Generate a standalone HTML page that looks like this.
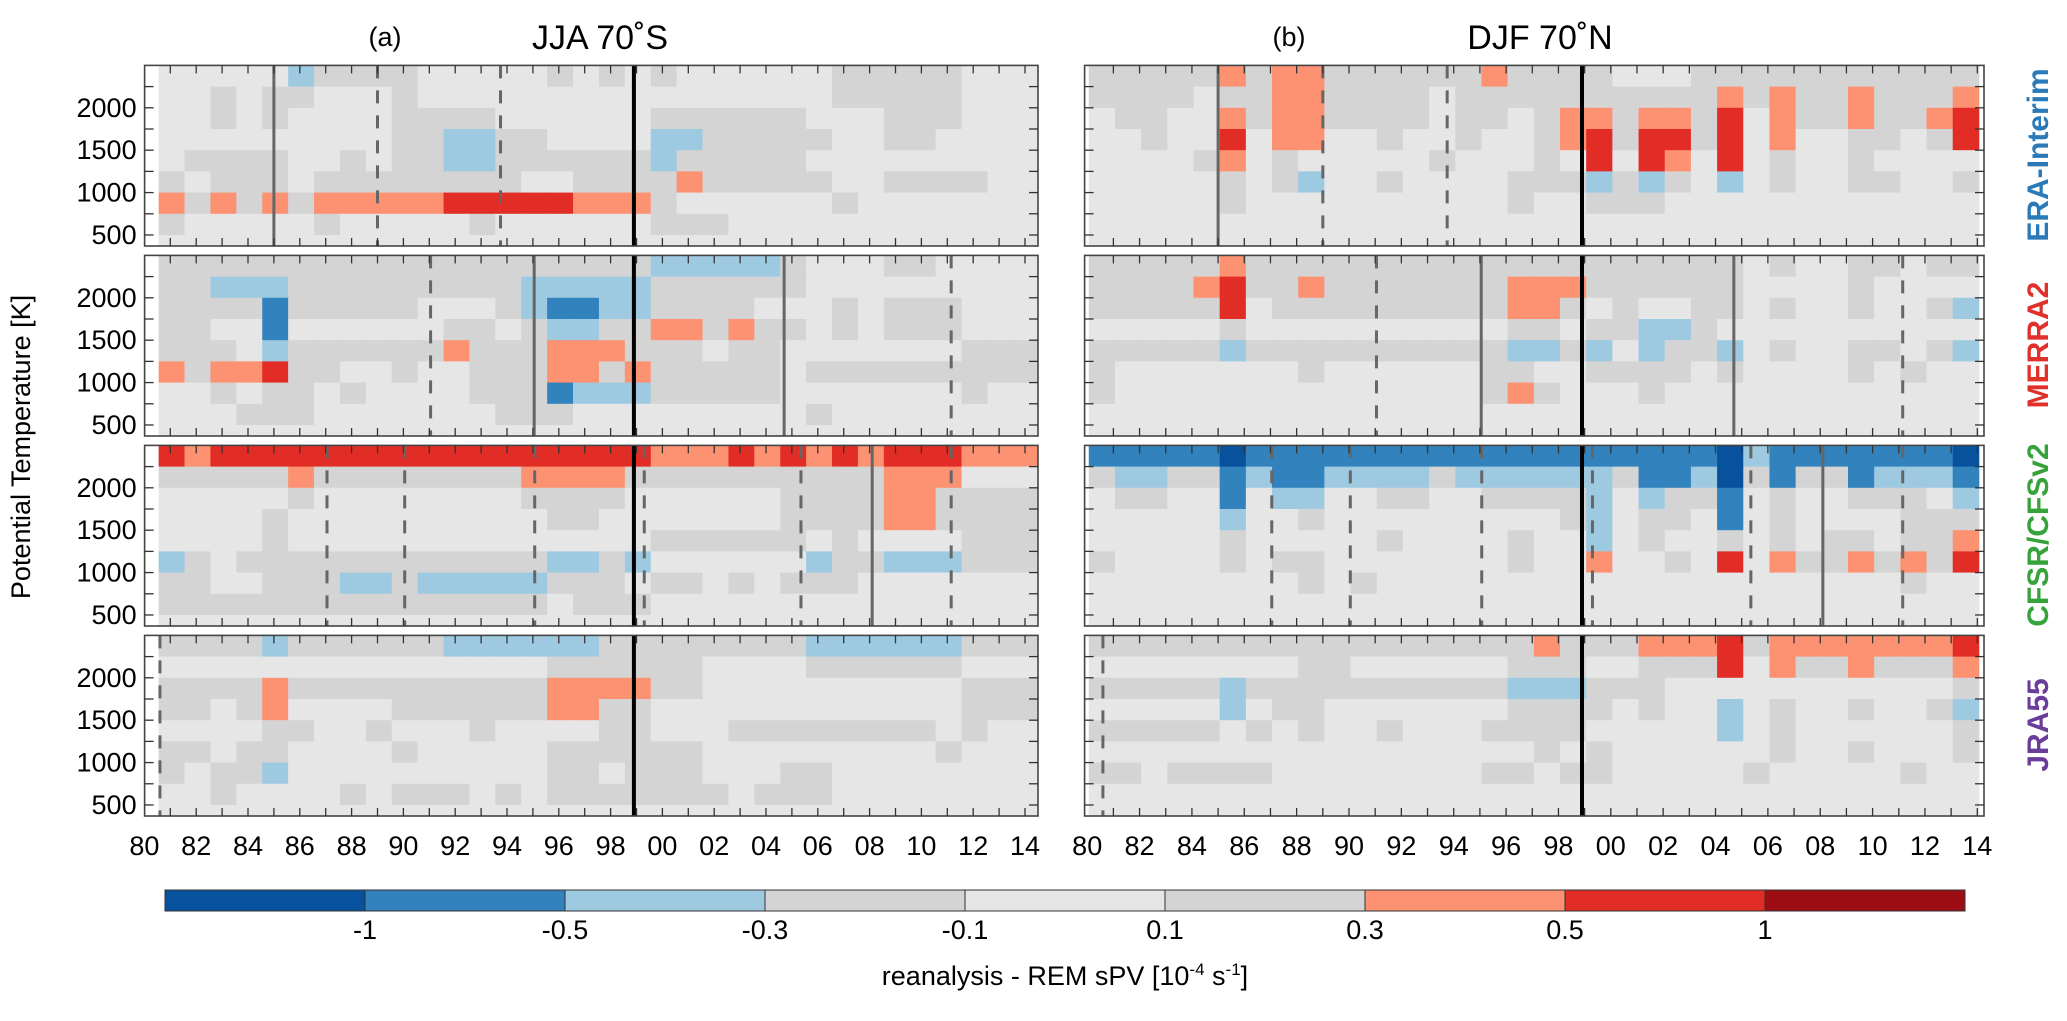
<!DOCTYPE html>
<html><head><meta charset="utf-8">
<style>
html,body{margin:0;padding:0;background:#fff;}
body{width:2067px;height:1016px;overflow:hidden;font-family:"Liberation Sans",sans-serif;}
svg text{font-family:"Liberation Sans",sans-serif;}
</style></head>
<body>
<svg id="chart" width="2067" height="1016" viewBox="0 0 2067 1016" xmlns="http://www.w3.org/2000/svg">
  <g id="cells"></g>
  <g id="lines"></g>
  <g id="frames"></g>
  <g id="labels"></g>
  <text x="385" y="46" font-size="27" text-anchor="middle">(a)</text>
  <text x="600" y="49" font-size="34" text-anchor="middle">JJA 70˚S</text>
  <text x="1289" y="46" font-size="27" text-anchor="middle">(b)</text>
  <text x="1540" y="49" font-size="34" text-anchor="middle">DJF 70˚N</text>
  <text transform="translate(30,447) rotate(-90)" font-size="27" text-anchor="middle">Potential Temperature [K]</text>
  <text transform="translate(2048,155) rotate(-90)" font-size="30" font-weight="bold" fill="#2a7ab9" text-anchor="middle">ERA-Interim</text>
  <text transform="translate(2048,345) rotate(-90)" font-size="30" font-weight="bold" fill="#e0302a" text-anchor="middle">MERRA2</text>
  <text transform="translate(2048,535) rotate(-90)" font-size="30" font-weight="bold" fill="#36a33a" text-anchor="middle">CFSR/CFSv2</text>
  <text transform="translate(2048,725) rotate(-90)" font-size="30" font-weight="bold" fill="#6a3d9a" text-anchor="middle">JRA55</text>
  <g id="cbar"></g>
  <text x="1065" y="985" font-size="27" text-anchor="middle">reanalysis - REM sPV [10<tspan dy="-10" font-size="17">-4</tspan><tspan dy="10"> s</tspan><tspan dy="-10" font-size="17">-1</tspan><tspan dy="10">]</tspan></text>
</svg>
<script>
// ---- data: run-length coded category rows (top row = 2250-2500 K) ----
var eraJJA = ["L5 b1 g4 L5 g1 L1 g1 L1 g1 L6 g5 L3","L2 g1 L1 g2 L3 g1 L16 g5 L3","L2 g1 L1 g1 L4 g4 L6 g6 L3 g3 L3","L9 g2 b2 g2 L4 b2 g5 L2 g2 L4","L1 g4 L2 g1 L1 g2 b2 g6 b1 g5 L9","g1 L1 g3 L1 g8 L2 g4 o1 g5 L2 g4 L2","o1 g1 o1 g1 o1 g1 o5 r5 o3 g1 L6 g1 L7","g1 L5 g1 L5 g1 L6 g3 L12","L34"];
var eraDJF = ["g5 o1 g1 o2 g6 o1 g4 L3 g11","g4 L1 g2 o2 g4 L1 g10 o1 g1 o1 g2 o1 g3 o1","L1 g2 L2 o1 g1 o2 g4 L1 g2 L1 g1 o2 g1 o2 g1 r1 L1 o1 g2 o1 g2 o1 r1","L2 g1 L2 r1 L1 o2 L2 g1 L2 g1 L2 g1 o1 r1 g1 r2 g1 r1 L1 o1 L2 g2 L1 g1 r1","L4 g1 o1 L1 g1 L5 g1 L3 g1 L1 r1 L1 r1 o1 L1 r1 L1 g1 L2 g1 L4","L5 g1 L1 g1 b1 L2 g1 L4 g3 b1 g1 b1 g1 L1 b1 L1 g1 L2 g2 L2 g1","L5 g1 L10 g1 L2 g3 L12","L34","L34"];
var merraJJA = ["g19 b5 g1 L3 g2 L4","g2 b3 g9 b5 g6 L9","g4 B1 g5 L3 g1 b1 B2 b2 g4 L3 g1 L1 g3 L3","g2 L2 B1 L6 g2 L1 g1 b2 g2 o2 g1 o1 g2 L1 g1 L1 g3 L3","g3 L1 b1 g6 o1 g3 o3 g3 L1 g2 L7 g3","o1 g1 o2 r1 g2 L2 g1 L2 g3 o2 g1 o1 g5 L1 g9","L2 g1 L1 g2 L1 g1 L4 g3 B1 b3 g5 L7 g1 L2","L3 g3 L7 g3 L9 g1 L8","L34"];
var merraDJF = ["g5 o1 g19 L1 g1 L2 g2 L1 g2","g4 o1 r1 g2 o1 g7 o3 g6 L4 g1 L4","g5 r1 L1 g9 o2 g1 L1 g1 L2 g2 L1 g1 L2 g1 L2 g1 b1","L5 g1 L10 g2 L1 g2 b2 g1 L10","g5 b1 g10 b2 g1 b1 L1 b1 g2 b1 L1 g1 L2 g2 L1 g1 b1","g1 L7 g1 L6 g2 L2 g4 L1 g1 L4 g1 L1 g1 L2","g1 L14 g1 o1 g1 L3 g1 L12","L34","L34"];
var cfsrJJA = ["r1 o1 r17 o3 r1 o1 r1 o1 r1 o1 r3 o3","g5 o1 g8 o4 g10 o3 L3","L5 g1 L8 g4 L6 g4 o2 g4","L4 g1 L10 g2 L7 g4 o2 g4","L4 g1 L14 g6 L1 g1 L4 g3","b1 g1 L1 g12 b2 g1 b1 L6 b1 g2 b3 g3","g2 L2 g3 b2 g1 b5 g3 L1 g2 L1 g1 L1 g3 L7","g15 L1 g3 L15","L34"];
var cfsrDJF = ["B5 D1 B18 D1 b1 B7 D1","g1 b2 g2 B1 b1 B2 b4 g1 b5 b1 g1 B2 b1 D1 g1 B1 g2 B1 b3 B1","L1 g2 L2 B1 L1 b2 L2 g2 L2 g4 b1 L1 b1 g2 B1 L1 g1 L2 g3 L1 b1","L5 b1 L2 g1 L9 g1 b1 L1 g2 L1 B1 L1 g1 L4 g3","L5 g1 L5 g1 L4 g1 L2 b1 L1 g1 L2 g1 L1 g1 L1 g2 L1 g2 o1","g1 L4 g1 L1 g2 L7 g1 L2 o1 L2 g1 L1 r1 L1 o1 g2 o1 g1 o1 g1 r1","L8 g1 L1 g1 L20 g1 L2","L34","L34"];
var jraJJA = ["g4 b1 g6 b6 g8 b6 g3","L15 g6 L4 g6 L3","g4 o1 g10 o4 g2 L10 g3","g2 L1 g1 o1 L4 g6 o2 g2 L12 g3","L4 g2 L2 g1 L3 g1 L4 g2 L3 g8 L1 g1 L2","g2 L1 g2 L4 g1 L5 g6 L9 g1 L3","g1 L1 g2 b1 L10 g2 L1 g3 L3 g2 L8","L2 g1 L4 g1 L1 g3 L1 g1 L1 g7 L1 g3 L8","L34"];
var jraDJF = ["g17 o1 g3 o3 r1 g1 o7 r1","L8 g2 L6 g3 L2 g3 r1 L1 o1 g2 o1 g3 o1","g5 b1 g10 b3 g3 L11 g1","L5 b1 L1 g2 L7 g3 g1 L1 g1 L2 b1 L1 g1 L2 g1 L2 g1 b1","g5 L1 g1 L1 g1 L2 g1 L3 g4 L5 b1 L1 g1 L6 g1","L17 g1 L1 g1 L6 g1 L2 g1 L3 g1","g2 L1 g4 L8 g2 L1 g2 L5 g1 L5 g1 L2","L34","L34"];
// representative value of each category code [1e-4 s-1]
var codeValues = {D:-1.2, B:-0.7, b:-0.4, g:0.2, L:0, o:0.4, r:0.7, R:1.2};
// colour scale
var cbarBounds = [-1,-0.5,-0.3,-0.1,0.1,0.3,0.5,1];
var cbarLabels = ["-1","-0.5","-0.3","-0.1","0.1","0.3","0.5","1"];
var cbarColors = ["#08519c","#3182bd","#9ecae1","#d4d4d4","#e6e6e6","#d4d4d4","#fc9272","#e22d26","#9d0e14"];
// reference lines per row of panels: [year, style]
var linesERA = [[1985.0,"s"],[1989.0,"d"],[1993.75,"d"],[1998.9,"k"]];
var linesMERRA = [[1991.05,"d"],[1995.05,"s"],[1998.9,"k"],[2004.7,"s"],[2011.15,"d"]];
var linesCFSR = [[1987.05,"d"],[1990.05,"d"],[1995.07,"d"],[1998.9,"k"],[1999.3,"d"],[2005.35,"d"],[2008.1,"s"],[2011.15,"d"]];
var linesJRA = [[1980.6,"d"],[1998.9,"k"]];
var yTicks = [500,1000,1500,2000];
var yMinorTicks = [500,750,1000,1250,1500,1750,2000,2250];
var xTickYears = [1980,1982,1984,1986,1988,1990,1992,1994,1996,1998,2000,2002,2004,2006,2008,2010,2012,2014];

(function draw(){
var NS = "http://www.w3.org/2000/svg";
function mk(tag, attrs, parent){var e=document.createElementNS(NS,tag);for(var k in attrs)e.setAttribute(k,String(attrs[k]));parent.appendChild(e);return e;}
function decode(s){var out=[];s.split(" ").forEach(function(t){var c=t[0],n=parseInt(t.slice(1),10);for(var i=0;i<n;i++)out.push(codeValues[c]);});while(out.length<34)out.push(0);return out.slice(0,34);}
function colorOf(v){for(var i=0;i<cbarBounds.length;i++){if(v<cbarBounds[i])return cbarColors[i];}return cbarColors[cbarColors.length-1];}
function makeXs(P){return function(y){return P.x0+(y-1980)*P.ppy;};}

var cols = [
  {left:144.6,right:1038,x0:144.4,ppy:25.9,cellStart:1980.55,name:"jja"},
  {left:1084.6,right:1984,x0:1087.2,ppy:26.18,cellStart:1980.06,name:"djf"}
];
var rowsTop = [65.4,255.4,445.4,635.4];
var PH = 180.6;
var datasets = [[eraJJA,eraDJF],[merraJJA,merraDJF],[cfsrJJA,cfsrDJF],[jraJJA,jraDJF]];
var rowNames = ["era-interim","merra2","cfsr","jra55"];
var refLines = [linesERA,linesMERRA,linesCFSR,linesJRA];
function yScale(t,K){return t+(2500-K)*PH/(2500-370);}

var gC=document.getElementById("cells"), gL=document.getElementById("lines"), gF=document.getElementById("frames"), gT=document.getElementById("labels");
for(var r=0;r<4;r++){
  var pTop=rowsTop[r], pBot=pTop+PH;
  for(var c=0;c<2;c++){
    var P=cols[c];
    var xs=makeXs(P);
    var data=datasets[r][c];
    var bg=mk("rect",{x:P.left,y:pTop,width:P.right-P.left,height:PH,fill:"#ffffff"},gC);
    
    
    for(var k=0;k<9;k++){
      var vals=decode(data[k]);
      var kHi=2500-250*k, kLo=Math.max(370,2250-250*k);
      var y1=yScale(pTop,kHi), y2=yScale(pTop,kLo);
      for(var i=0;i<34;i++){
        var xa=xs(P.cellStart+i), xb=Math.min(xs(P.cellStart+i+1),P.right);
        var cell=mk("rect",{x:xa.toFixed(2),y:y1.toFixed(2),width:(xb-xa+0.4).toFixed(2),height:(y2-y1+0.4).toFixed(2),fill:colorOf(vals[i])},gC);
        
        
      }
    }
    for(var li=0;li<refLines[r].length;li++){
      var Lr=refLines[r][li];
      var lx=xs(Lr[0]);
      var a={x1:lx,x2:lx,y1:pTop,y2:pBot,stroke:Lr[1]=="k"?"#000":"#666","stroke-width":Lr[1]=="k"?4:3};
      if(Lr[1]=="d")a["stroke-dasharray"]="13,12";
      var ln=mk("line",a,gL);
      
      
    }
    var fr=mk("rect",{x:P.left,y:pTop,width:P.right-P.left,height:PH,fill:"none",stroke:"#444","stroke-width":1.6},gF);
    
    
    for(var yr=1981;yr<=2014;yr++){
      var tx=xs(yr);
      if(tx>=P.right-1)continue;
      mk("line",{x1:tx,x2:tx,y1:pTop,y2:pTop+8,stroke:"#333","stroke-width":1.3},gF);
      mk("line",{x1:tx,x2:tx,y1:pBot,y2:pBot-8,stroke:"#333","stroke-width":1.3},gF);
    }
    for(var m=0;m<yMinorTicks.length;m++){
      var ty=yScale(pTop,yMinorTicks[m]);
      mk("line",{x1:P.left,x2:P.left+9,y1:ty,y2:ty,stroke:"#333","stroke-width":1.3},gF);
      mk("line",{x1:P.right,x2:P.right-9,y1:ty,y2:ty,stroke:"#333","stroke-width":1.3},gF);
    }
    if(c==0){
      for(var q=0;q<yTicks.length;q++){
        var t=mk("text",{x:P.left-8,y:yScale(pTop,yTicks[q])+9,"font-size":27,"text-anchor":"end"},gT);
        t.textContent=String(yTicks[q]);
        
        
      }
    }
    if(r==3){
      for(var w=0;w<xTickYears.length;w++){
        var t2=mk("text",{x:xs(xTickYears[w]),y:855,"font-size":27,"text-anchor":"middle"},gT);
        t2.textContent=String(xTickYears[w]).slice(2);
        
        
      }
    }
  }
}
var gB=document.getElementById("cbar");
var cbX=165, cbW=1800, cbY=890, cbH=21, segW=cbW/cbarColors.length;
for(var s=0;s<cbarColors.length;s++){
  var seg=mk("rect",{x:cbX+s*segW,y:cbY,width:segW,height:cbH,fill:cbarColors[s],stroke:"#333","stroke-width":1},gB);
  
  
}
for(var j=0;j<cbarLabels.length;j++){
  var t3=mk("text",{x:cbX+(j+1)*segW,y:939,"font-size":27,"text-anchor":"middle"},gB);
  t3.textContent=cbarLabels[j];
  
  
}
})();
</script>
</body></html>
